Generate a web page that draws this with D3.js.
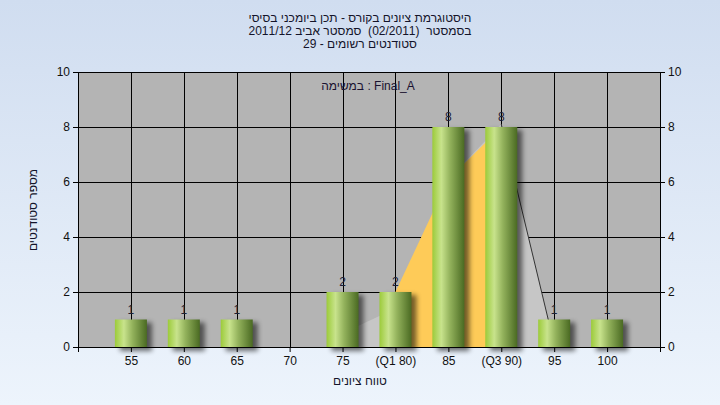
<!DOCTYPE html>
<html><head><meta charset="utf-8">
<script src="https://cdn.jsdelivr.net/npm/d3@7"></script>
<style>body{margin:0;padding:0;overflow:hidden}svg{display:block}text{white-space:pre}</style>
</head><body>
<svg id="chart" width="720" height="405"></svg>
<script>
const titleLines = ["היסטוגרמת ציונים בקורס - תכן ביומכני בסיסי", "בסמסטר  (02/2011)  סמסטר אביב 2011/12", "סטודנטים רשומים - 29"];
const subtitle = "במשימה : Final_A";
const categories = ["55", "60", "65", "70", "75", "(Q1 80)", "85", "(Q3 90)", "95", "100"];
const counts = [1, 1, 1, 0, 2, 2, 8, 8, 1, 1];
const yTicks = [0, 2, 4, 6, 8, 10];
const grayAreaIdx = [4, 5, 6, 7, 8];
const grayAreaVals = [0.5, 1.4, 6.1, 8.1, 0.1];
const orangeIdx = [5, 6, 7];
const orangeVals = [2, 6.1, 8.0];
const xTitle = "טווח ציונים";
const yTitle = "מספר סטודנטים";

const svg = d3.select("#chart");
const W = 720, H = 405;
const L = 78, R = 660, T = 72, B = 347;
const FONT = "'Liberation Sans', Arial, sans-serif";

const defs = svg.append("defs");
const bg = defs.append("linearGradient").attr("id", "bg").attr("x1", 0).attr("y1", 0).attr("x2", 0).attr("y2", 1);
bg.append("stop").attr("offset", "0%").attr("stop-color", "#d0ddf0");
bg.append("stop").attr("offset", "100%").attr("stop-color", "#edf4fc");
const bar = defs.append("linearGradient").attr("id", "bar").attr("x1", 0).attr("y1", 0).attr("x2", 1).attr("y2", 0);
[["0%", "#9ccb3a"], ["28%", "#c8e38c"], ["55%", "#93b25c"], ["100%", "#4a6a22"]].forEach(([o, c]) => bar.append("stop").attr("offset", o).attr("stop-color", c));
const blur = defs.append("filter").attr("id", "blur").attr("x", "-50%").attr("y", "-50%").attr("width", "200%").attr("height", "200%");
blur.append("feGaussianBlur").attr("stdDeviation", 2.4);

svg.append("rect").attr("width", W).attr("height", H).attr("fill", "url(#bg)");

const x = d3.scaleLinear().domain([0, categories.length + 1]).range([L, R]);
const y = d3.scaleLinear().domain([0, 10]).range([B, T]);

svg.append("rect").attr("x", L).attr("y", T).attr("width", R - L).attr("height", B - T).attr("fill", "#b4b4b4");

// gridlines
svg.append("g").selectAll("line").data(yTicks).join("line")
  .attr("x1", L).attr("x2", R).attr("y1", d => y(d)).attr("y2", d => y(d))
  .attr("stroke", "#000").attr("stroke-width", 1).attr("shape-rendering", "crispEdges");
svg.append("g").selectAll("line").data(categories).join("line")
  .attr("x1", (d, i) => Math.round(x(i + 1)) + 0.5).attr("x2", (d, i) => Math.round(x(i + 1)) + 0.5)
  .attr("y1", T).attr("y2", B).attr("stroke", "#000").attr("stroke-width", 1);

// areas
const grayPts = grayAreaIdx.map((d, i) => [d + 1, grayAreaVals[i]]);
svg.append("path").datum(grayPts)
  .attr("d", d3.area().x(d => x(d[0])).y0(y(0)).y1(d => y(d[1])))
  .attr("fill", "#c6c6c6");
const orPts = orangeIdx.map((d, i) => [d + 1, orangeVals[i]]);
svg.append("path").datum(orPts)
  .attr("d", d3.area().x(d => x(d[0])).y0(y(0)).y1(d => y(d[1])))
  .attr("fill", "#fecb58");
svg.append("path").datum(grayPts.slice(3))
  .attr("d", d3.line().x(d => x(d[0])).y(d => y(d[1])))
  .attr("fill", "none").attr("stroke", "#333").attr("stroke-width", 1);

// bars
const bw = 32;
const bars = svg.append("g");
counts.forEach((v, i) => {
  if (v <= 0) return;
  const cx = x(i + 1);
  bars.append("rect").attr("x", cx - bw / 2 + 5).attr("y", y(v) + 3).attr("width", bw).attr("height", y(0) - y(v) + 1)
    .attr("fill", "#000").attr("opacity", 0.55).attr("filter", "url(#blur)");
});
counts.forEach((v, i) => {
  if (v <= 0) return;
  const cx = x(i + 1);
  bars.append("rect").attr("x", cx - bw / 2).attr("y", y(v)).attr("width", bw).attr("height", y(0) - y(v))
    .attr("fill", "url(#bar)");
  bars.append("text").attr("x", cx).attr("y", y(v) - 6).attr("text-anchor", "middle")
    .attr("font-family", FONT).attr("font-size", 12).attr("fill", "#1c2036").text(v);
});

// axes
const axL = d3.axisLeft(y).tickValues(yTicks).tickSize(5).tickPadding(3);
const gl = svg.append("g").attr("transform", `translate(${L},0)`).call(axL);
const axR = d3.axisRight(y).tickValues(yTicks).tickSize(5).tickPadding(3);
const gr = svg.append("g").attr("transform", `translate(${R},0)`).call(axR);
const xb = d3.scaleLinear().domain(x.domain()).range(x.range());
const axB = d3.axisBottom(xb).tickValues(d3.range(0, categories.length + 2)).tickSize(5).tickPadding(4)
  .tickFormat(d => (d >= 1 && d <= categories.length) ? categories[d - 1] : "");
const gb = svg.append("g").attr("transform", `translate(0,${B})`).call(axB);
[gl, gr, gb].forEach(g => {
  g.selectAll("path,line").attr("stroke", "#000");
  g.selectAll("text").attr("font-family", FONT).attr("font-size", 12).attr("fill", "#111");
});
gl.select(".domain").remove(); gr.select(".domain").remove();
svg.append("line").attr("x1", L + 0.5).attr("x2", L + 0.5).attr("y1", T).attr("y2", B + 5).attr("stroke", "#000");
svg.append("line").attr("x1", R + 0.5).attr("x2", R + 0.5).attr("y1", T).attr("y2", B + 5).attr("stroke", "#000");
gb.select(".domain").attr("d", `M${L},0.5H${R}`);

// titles
titleLines.forEach((t, i) => {
  svg.append("text").attr("x", 360).attr("y", 22 + i * 13).attr("text-anchor", "middle").attr("direction", "rtl")
    .attr("xml:space", "preserve")
    .attr("font-family", FONT).attr("font-size", 12).attr("fill", "#14142a").text(t);
});
svg.append("text").attr("x", 368).attr("y", 90).attr("text-anchor", "middle")
  .attr("font-family", FONT).attr("font-size", 12).attr("fill", "#1a1230").text(subtitle);
svg.append("text").attr("x", 360).attr("y", 385).attr("text-anchor", "middle")
  .attr("font-family", FONT).attr("font-size", 12).attr("fill", "#14142a").text(xTitle);
svg.append("text").attr("transform", `translate(37,${210}) rotate(-90)`).attr("text-anchor", "middle")
  .attr("font-family", FONT).attr("font-size", 12).attr("fill", "#14142a").text(yTitle);
</script>
</body></html>
